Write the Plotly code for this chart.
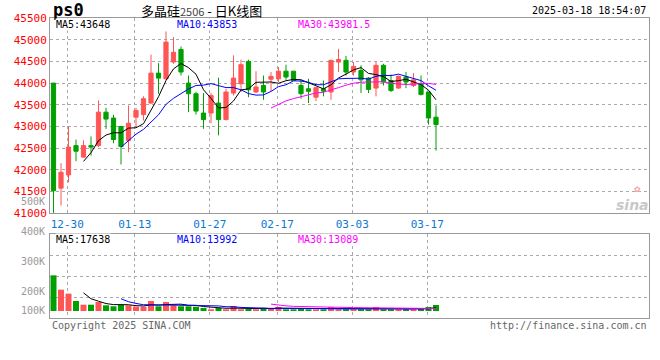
import plotly.graph_objects as go
import pandas as pd

# ---------------- data ----------------
dates = ["12-26", "12-27", "12-30", "12-31", "01-02", "01-03", "01-06", "01-07", "01-08", "01-09",
         "01-10", "01-13", "01-14", "01-15", "01-16", "01-17", "01-20", "01-21", "01-22", "01-23",
         "01-24", "01-27", "02-05", "02-06", "02-07", "02-10", "02-11", "02-12", "02-13", "02-14",
         "02-17", "02-18", "02-19", "02-20", "02-21", "02-24", "02-25", "02-26", "02-27", "02-28",
         "03-03", "03-04", "03-05", "03-06", "03-07", "03-10", "03-11", "03-12", "03-13", "03-14",
         "03-17", "03-18"]

opens = [44000, 41580, 41885, 42560, 42295, 42560, 42560, 43330, 43195, 43000,
         42680, 43215, 43275, 43540, 44230, 44100, 44485, 44775, 44000, 43755,
         43310, 43310, 43540, 43160, 43770, 43985, 44500, 43795, 43945, 44090,
         44100, 44275, 44275, 43945, 43870, 43675, 43870, 43795, 44485, 44525,
         44255, 44290, 44115, 43885, 44410, 44060, 43885, 44140, 43945, 43985,
         43795, 43215]
highs = [44000, 42155, 43000, 42700, 42680, 42770, 43600, 43430, 43270, 43000,
         43485, 43430, 43695, 44655, 44460, 45190, 45060, 44845, 44175, 43800,
         43770, 43770, 44125, 43870, 44640, 44540, 44540, 44275, 44175, 44255,
         44370, 44425, 44275, 44075, 44100, 43910, 44060, 44525, 44790, 44625,
         44485, 44410, 44140, 44485, 44445, 44200, 44175, 44255, 44230, 44175,
         43795, 43485]
lows = [41010, 41180, 41715, 42200, 42280, 42330, 42525, 42945, 42615, 42125,
        42410, 42985, 43140, 43525, 43755, 44075, 44445, 44175, 43330, 43275,
        42945, 43075, 42795, 43140, 43715, 43795, 43675, 43770, 43615, 43815,
        44025, 44075, 44050, 43640, 43540, 43585, 43695, 43615, 44255, 44175,
        44175, 43770, 43770, 43695, 43945, 43795, 43870, 43885, 43910, 43715,
        43045, 42445]
closes = [41520, 41945, 42525, 42430, 42560, 42525, 43330, 43170, 42700, 42540,
          43075, 43370, 43640, 44230, 44115, 44945, 44710, 44255, 43755, 43355,
          43160, 43715, 43160, 43795, 44115, 44425, 43845, 43910, 43795, 44155,
          44275, 44140, 44060, 43755, 43810, 43895, 43815, 44525, 44545, 44255,
          44385, 44075, 43855, 44410, 44025, 43830, 44155, 44025, 44075, 43740,
          43195, 43045]
volumes = [189000, 113000, 92000, 53000, 33400, 33400, 47700, 30200, 24900, 33400,
           30200, 22800, 22800, 53000, 24900, 47700, 30200, 24900, 24900, 22800,
           15900, 9000, 15900, 9000, 26500, 9000, 12200, 9000, 15900, 15900,
           21200, 9000, 9000, 15900, 9000, 9000, 9000, 21200, 9000, 9000,
           9000, 9000, 9000, 21200, 9000, 9000, 9000, 9000, 9000, 15900,
           21200, 31800]

tick_dates = ["12-30", "01-13", "01-27", "02-17", "03-03", "03-17"]
price_ticks = [41000, 41500, 42000, 42500, 43000, 43500, 44000, 44500, 45000, 45500]
price_ma_texts = ["MA5:43648", "MA10:43853", "MA30:43981.5"]
vol_ma_texts = ["MA5:17638", "MA10:13992", "MA30:13089"]
vol_label_texts = ["500K", "400K", "300K", "200K", "100K"]
title_symbol = "ps0"
title_name = "多晶硅"
title_code = "2506"
title_kind = " - 日K线图"
timestamp = "2025-03-18 18:54:07"
copyright_text = "Copyright 2025 SINA.COM"
url_text = "http://finance.sina.com.cn"

# ---------------- styling / layout helpers ----------------
W, H = 660, 360
L, R, T, B = 50, 11, 18, 42
PW, PH = W - L - R, H - T - B
UP, DOWN = "#FF5555", "#00A000"
MONO = "DejaVu Sans Mono"
GRID = "#AAAAAA"
BORDER = "#999999"


def px_x(x):
    return (x - L) / PW


def px_y(y):
    return (H - B - y) / PH


xs = list(range(len(dates)))
close_s = pd.Series(closes, dtype=float)
vol_s = pd.Series(volumes, dtype=float)
ma_colors = ["#000000", "#0000FF", "#FF00FF"]
ma_periods = [5, 10, 30]

fig = go.Figure()

fig.add_trace(go.Candlestick(
    x=xs, open=opens, high=highs, low=lows, close=closes,
    increasing=dict(line=dict(color=UP, width=1), fillcolor=UP),
    decreasing=dict(line=dict(color=DOWN, width=1), fillcolor=DOWN),
    xaxis="x", yaxis="y", hoverinfo="skip",
))
for p, c in zip(ma_periods, ma_colors):
    fig.add_trace(go.Scatter(x=xs, y=close_s.rolling(p).mean(), mode="lines",
                             line=dict(color=c, width=1), xaxis="x", yaxis="y",
                             hoverinfo="skip"))

vcolors = [UP if cl >= op else DOWN for op, cl in zip(opens, closes)]
fig.add_trace(go.Bar(x=xs, y=volumes, marker=dict(color=vcolors, line=dict(width=0)),
                     width=0.8, xaxis="x2", yaxis="y2", hoverinfo="skip"))
for p, c in zip(ma_periods, ma_colors):
    fig.add_trace(go.Scatter(x=xs, y=vol_s.rolling(p).mean(), mode="lines",
                             line=dict(color=c, width=1), xaxis="x2", yaxis="y2",
                             hoverinfo="skip"))

spacing = 7.5  # px per candle
x0 = -(53.5 - L) / spacing
xrange = [x0, x0 + PW / spacing]
grid_x = [dates.index(d) - 0.17 for d in tick_dates]

vol_px = 5300.0  # volume per pixel
vol_range = [-7 * vol_px, 77 * vol_px]
vol_grid = [vol_range[0] + k * (vol_range[1] - vol_range[0]) / 4 for k in (1, 2, 3)]

axis_common = dict(showline=True, linecolor=BORDER, linewidth=1, mirror=True,
                   zeroline=False, showgrid=True, gridcolor=GRID, griddash="dot",
                   gridwidth=1, fixedrange=True, automargin=False)

fig.update_layout(
    width=W, height=H, margin=dict(l=L, r=R, t=T, b=B, autoexpand=False),
    paper_bgcolor="white", plot_bgcolor="white", showlegend=False,
    boxgap=0.2, hovermode=False,
    xaxis=dict(domain=[0, 1], range=xrange, tickmode="array", tickvals=grid_x,
               ticktext=tick_dates, ticks="", tickfont=dict(family=MONO, size=11, color="#0A78D2"),
               rangeslider=dict(visible=False), anchor="y", **axis_common),
    yaxis=dict(domain=[px_y(213.3), 1], range=[41000, 45500], tickmode="array",
               tickvals=price_ticks, ticktext=[str(v) for v in price_ticks], ticks="",
               tickfont=dict(family=MONO, size=11, color="#FF0000"), anchor="x", **axis_common),
    xaxis2=dict(domain=[0, 1], range=xrange, tickmode="array", tickvals=grid_x,
                showticklabels=False, ticks="", anchor="y2", matches="x", **axis_common),
    yaxis2=dict(domain=[0, px_y(234)], range=vol_range, tickmode="array", tickvals=vol_grid,
                showticklabels=False, ticks="", anchor="x2", **axis_common),
)

ann = []
# title row
ann.append(dict(x=px_x(51), y=px_y(10), text=f"<b>{title_symbol}</b>", xanchor="left",
                yanchor="middle", font=dict(family=MONO, size=17, color="#000")))
ann.append(dict(x=px_x(139), y=px_y(10),
                text=f"{title_name}<span style='font-size:11px;fill:#444'>{title_code}</span>{title_kind}",
                xanchor="left", yanchor="middle",
                font=dict(family="Noto Sans CJK SC", size=13, color="#000")))
ann.append(dict(x=px_x(648), y=px_y(10), text=timestamp, xanchor="right", yanchor="middle",
                font=dict(family=MONO, size=10, color="#000")))
# MA legends
for txt, c, xp in zip(price_ma_texts, ma_colors, [55, 176, 297]):
    ann.append(dict(x=px_x(xp), y=px_y(24), text=txt, xanchor="left", yanchor="middle",
                    font=dict(family=MONO, size=10, color=c), bgcolor="white", borderpad=0))
for txt, c, xp in zip(vol_ma_texts, ma_colors, [55, 176, 297]):
    ann.append(dict(x=px_x(xp), y=px_y(239), text=txt, xanchor="left", yanchor="middle",
                    font=dict(family=MONO, size=10, color=c), bgcolor="white", borderpad=0))
# volume axis labels
for txt, yp in zip(vol_label_texts, [201, 231, 261, 291, 310]):
    ann.append(dict(x=px_x(47), y=px_y(yp), text=txt, xanchor="right", yanchor="middle",
                    font=dict(family=MONO, size=10, color="#999999")))
# footer
ann.append(dict(x=px_x(50), y=px_y(325), text=copyright_text, xanchor="left", yanchor="middle",
                font=dict(family=MONO, size=10, color="#666666")))
ann.append(dict(x=px_x(649), y=px_y(325), text=url_text, xanchor="right", yanchor="middle",
                font=dict(family=MONO, size=10, color="#666666")))
# sina watermark
ann.append(dict(x=px_x(632), y=px_y(205), text="sina", xanchor="center", yanchor="middle",
                font=dict(family="DejaVu Sans", size=14, color="#C8C8C8", weight="bold", style="italic")))
ann.append(dict(x=px_x(637), y=px_y(190), text="✿", xanchor="center", yanchor="middle",
                font=dict(family="DejaVu Sans", size=8, color="#F2A0A0")))

for a in ann:
    a.update(xref="paper", yref="paper", showarrow=False)
fig.update_layout(annotations=ann)

fig.write_html("out.html", config={"displayModeBar": False, "staticPlot": True},
               post_script="document.body.style.margin='0';")
